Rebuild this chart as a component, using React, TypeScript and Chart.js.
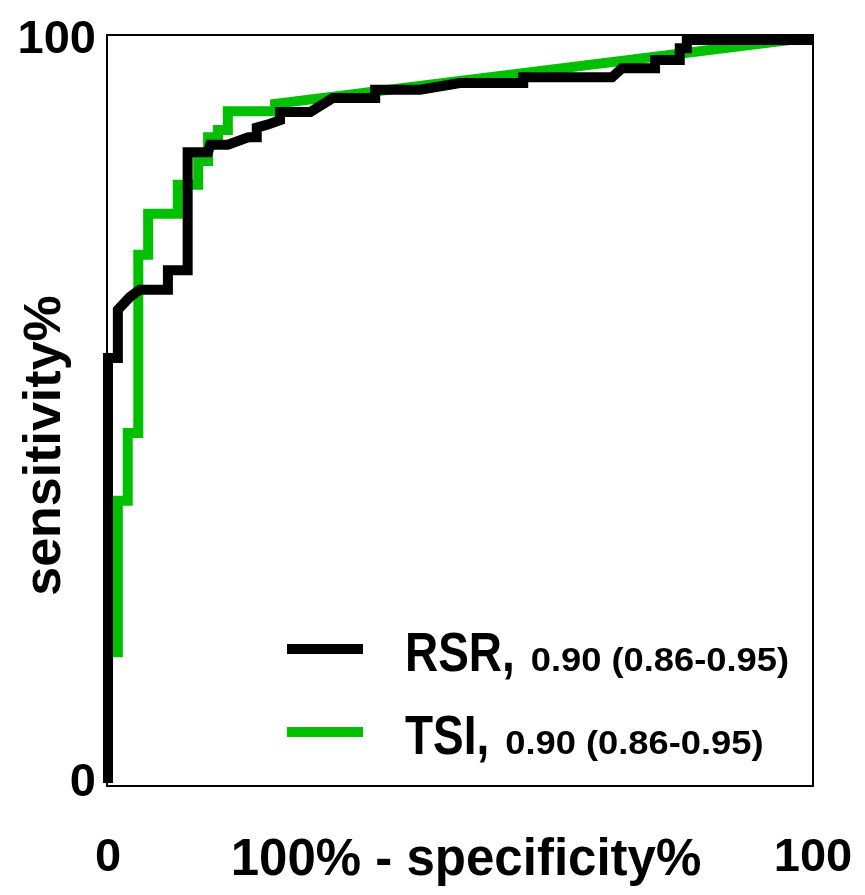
import React, { useEffect, useRef } from "react";
import { Chart, registerables } from "chart.js";

Chart.register(...registerables);

// ROC curve for RSR (x = 100% - specificity%, y = sensitivity%)
const RSR_FPR = [0, 0, 1.4, 1.4, 3.1, 4.5, 8.5, 8.5, 11.3, 11.3, 14.2, 14.5, 17.0, 19.9, 21.1, 21.1, 22.6, 24.4, 24.4, 28.7, 31.9, 37.9, 37.9, 44.3, 49.9, 58.9, 58.9, 71.5, 72.9, 77.6, 77.6, 81.1, 81.1, 82.1, 82.1, 100];
const RSR_SENS = [0, 57.2, 57.2, 63.7, 65.4, 66.4, 66.4, 69.0, 69.0, 84.9, 84.9, 85.9, 85.9, 86.9, 86.9, 88.2, 88.6, 89.2, 90.3, 90.3, 92.2, 92.2, 93.3, 93.3, 94.2, 94.2, 95.0, 95.0, 96.2, 96.2, 97.3, 97.3, 98.9, 98.9, 100, 100];

// ROC curve for TSI
const TSI_FPR = [0, 0, 1.4, 1.4, 2.8, 2.8, 4.3, 4.3, 5.7, 5.7, 9.9, 9.9, 12.8, 12.8, 14.2, 14.2, 15.6, 15.6, 17.0, 17.0, 23.7, 23.7, 96.7, 100];
const TSI_SENS = [0, 17.6, 17.6, 38.0, 38.0, 47.1, 47.1, 71.1, 71.1, 76.6, 76.6, 80.5, 80.5, 83.7, 83.7, 86.9, 86.9, 87.9, 87.9, 90.4, 90.4, 91.4, 100, 100];

const SERIES_NAMES = ["RSR,", "TSI,"];
const SERIES_AUC = ["0.90 (0.86-0.95)", "0.90 (0.86-0.95)"];
const SERIES_COLORS = ["#000000", "#00C000"];
const AXIS_TICKS = [0, 100];
const X_TITLE = "100% - specificity%";
const Y_TITLE = "sensitivity%";

const FONT = "'Liberation Sans', Arial, sans-serif";

const toPoints = (xs: number[], ys: number[]) => xs.map((x, i) => ({ x, y: ys[i] }));

const drawScaledText = (ctx: any, text: string, x: number, y: number, sx: number) => {
  ctx.save();
  ctx.translate(x, y);
  ctx.scale(sx, 1);
  ctx.fillText(text, 0, 0);
  ctx.restore();
  return ctx.measureText(text).width * sx;
};

const decorPlugin = {
  id: "decor",
  beforeDatasetsDraw(chart: any) {
    const { ctx, chartArea } = chart;
    ctx.save();
    ctx.strokeStyle = "#000";
    ctx.lineWidth = 2;
    ctx.strokeRect(chartArea.left, chartArea.top, chartArea.right - chartArea.left, chartArea.bottom - chartArea.top);
    ctx.restore();
  },
  afterDraw(chart: any) {
    const { ctx, chartArea } = chart;
    const { left, right, top, bottom } = chartArea;
    ctx.save();
    ctx.fillStyle = "#000";
    // x title
    ctx.font = `bold 51px ${FONT}`;
    ctx.textAlign = "center";
    ctx.textBaseline = "alphabetic";
    ctx.fillText(X_TITLE, (left + right) / 2 + 6, bottom + 89);
    // y title
    ctx.save();
    ctx.translate(left - 61, (top + bottom) / 2 + 35);
    ctx.rotate(-Math.PI / 2);
    ctx.textBaseline = "middle";
    ctx.font = `bold 52px ${FONT}`;
    ctx.fillText(Y_TITLE, 0, 0);
    ctx.restore();
    // legend
    const rowsY = [bottom - 137, bottom - 54];
    rowsY.forEach((cy, i) => {
      ctx.strokeStyle = SERIES_COLORS[i];
      ctx.lineWidth = 10;
      ctx.lineCap = "butt";
      ctx.beginPath();
      ctx.moveTo(left + 180, cy);
      ctx.lineTo(left + 256, cy);
      ctx.stroke();
      const base = cy + 22;
      ctx.textAlign = "left";
      ctx.textBaseline = "alphabetic";
      ctx.font = `bold 56px ${FONT}`;
      const w = drawScaledText(ctx, SERIES_NAMES[i], left + 298, base, 0.82);
      ctx.font = `bold 33px ${FONT}`;
      drawScaledText(ctx, SERIES_AUC[i], left + 298 + w + 16, base, 1.1);
    });
    ctx.restore();
  },
};

export default function App() {
  const ref = useRef<HTMLCanvasElement | null>(null);
  useEffect(() => {
    if (!ref.current) return;
    const chart = new Chart(ref.current, {
      type: "line",
      data: {
        datasets: [
          {
            label: "RSR",
            data: toPoints(RSR_FPR, RSR_SENS),
            borderColor: SERIES_COLORS[0],
            backgroundColor: SERIES_COLORS[0],
            borderWidth: 10,
            pointRadius: 0,
            tension: 0,
            borderJoinStyle: "miter",
            borderCapStyle: "butt",
            order: 0,
            clip: false,
          },
          {
            label: "TSI",
            data: toPoints(TSI_FPR, TSI_SENS),
            borderColor: SERIES_COLORS[1],
            backgroundColor: SERIES_COLORS[1],
            borderWidth: 10,
            pointRadius: 0,
            tension: 0,
            borderJoinStyle: "miter",
            borderCapStyle: "butt",
            order: 1,
            clip: false,
          },
        ],
      },
      plugins: [decorPlugin],
      options: {
        animation: false,
        responsive: false,
        layout: { padding: { left: 0, top: 35, right: 52, bottom: 0 } },
        plugins: { legend: { display: false }, tooltip: { enabled: false } },
        scales: {
          x: {
            type: "linear",
            min: -0.14,
            max: 100,
            grid: { display: false, drawTicks: false },
            border: { display: false },
            afterBuildTicks: (s: any) => {
              s.ticks = AXIS_TICKS.map((v) => ({ value: v }));
            },
            afterFit: (s: any) => {
              s.height = 109;
              s.paddingLeft = 0;
              s.paddingRight = 0;
            },
            ticks: {
              padding: 44,
              maxRotation: 0,
              color: "#000",
              font: { family: FONT, weight: "bold", size: 47 },
              callback: (v: any) => String(v),
            },
          },
          y: {
            type: "linear",
            min: -0.4,
            max: 100.67,
            grid: { display: false, drawTicks: false },
            border: { display: false },
            afterBuildTicks: (s: any) => {
              s.ticks = AXIS_TICKS.map((v) => ({ value: v }));
            },
            afterFit: (s: any) => {
              s.width = 107;
              s.paddingTop = 0;
              s.paddingBottom = 0;
            },
            ticks: {
              padding: 11,
              color: "#000",
              font: { family: FONT, weight: "bold", size: 47 },
              callback: (v: any) => String(v),
            },
          },
        },
      },
    } as any);
    return () => chart.destroy();
  }, []);
  return (
    <div style={{ position: "absolute", left: 0, top: 0, width: 865, height: 895, background: "#fff" }}>
      <canvas ref={ref} width={865} height={895} style={{ display: "block" }} />
    </div>
  );
}
